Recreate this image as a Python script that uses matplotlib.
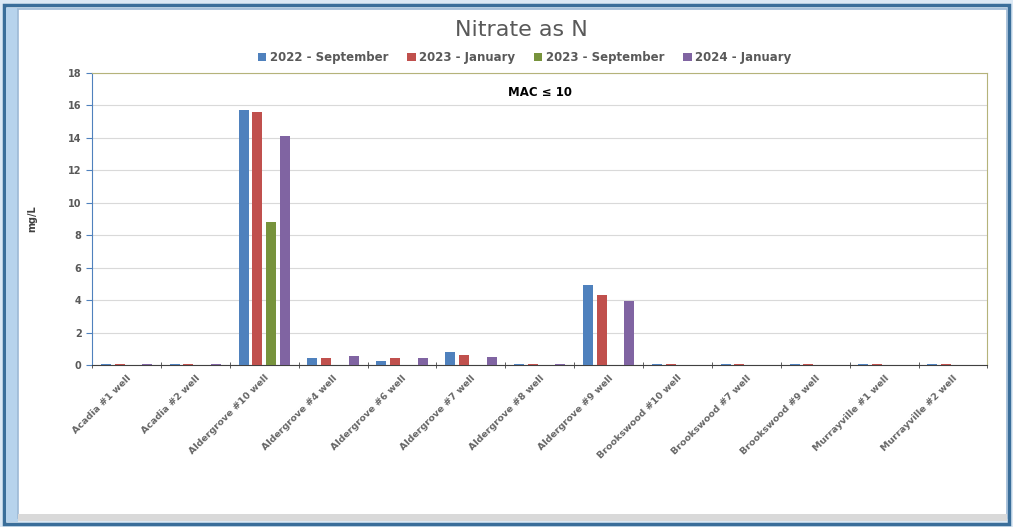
import matplotlib.pyplot as plt
import numpy as np
from matplotlib.patches import Rectangle

wells = ["Acadia #1 well", "Acadia #2 well", "Aldergrove #10 well", "Aldergrove #4 well",
         "Aldergrove #6 well", "Aldergrove #7 well", "Aldergrove #8 well", "Aldergrove #9 well",
         "Brookswood #10 well", "Brookswood #7 well", "Brookswood #9 well",
         "Murrayville #1 well", "Murrayville #2 well"]
series_names = ["2022 - September", "2023 - January", "2023 - September", "2024 - January"]
sep_2022 = [0.08, 0.08, 15.7, 0.42, 0.22, 0.82, 0.08, 4.95, 0.08, 0.08, 0.08, 0.08, 0.08]
jan_2023 = [0.08, 0.08, 15.6, 0.42, 0.42, 0.63, 0.08, 4.33, 0.08, 0.08, 0.08, 0.08, 0.08]
sep_2023 = [0, 0, 8.8, 0, 0, 0, 0, 0, 0, 0, 0, 0, 0]
jan_2024 = [0.08, 0.08, 14.1, 0.56, 0.42, 0.48, 0.08, 3.93, 0, 0, 0, 0, 0]
colors = ["#4F81BD", "#C0504D", "#77933C", "#8064A2"]

fig = plt.figure(figsize=(10.13, 5.27), dpi=100)

# window-like frame round the chart
fig.patches.append(Rectangle((0, 0), 1, 1, transform=fig.transFigure,
                             facecolor="#DCE9F5", edgecolor="none", zorder=-5))
fig.patches.append(Rectangle((0.004, 0.006), 0.992, 0.985, transform=fig.transFigure,
                             facecolor="none", edgecolor="#3A6E9A", lw=2.5, zorder=-4))
fig.patches.append(Rectangle((0.006, 0.01), 0.012, 0.975, transform=fig.transFigure,
                             facecolor="#B7D3EC", edgecolor="none", zorder=-4))
fig.patches.append(Rectangle((0.018, 0.018), 0.976, 0.965, transform=fig.transFigure,
                             facecolor="white", edgecolor="#9DB9D5", lw=1.2, zorder=-3))
fig.patches.append(Rectangle((0.018, 0.012), 0.976, 0.012, transform=fig.transFigure,
                             facecolor="#D9D9D9", edgecolor="none", zorder=-2))

ax = fig.add_axes([0.0908, 0.3074, 0.884, 0.5541])

x = np.arange(len(wells))
slot = 0.2
bw = 0.145
for i, (vals, c) in enumerate(zip([sep_2022, jan_2023, sep_2023, jan_2024], colors)):
    ax.bar(x + (i - 1.5) * slot, vals, width=bw, color=c, label=series_names[i], zorder=3)

ax.set_xlim(-0.5, len(wells) - 0.5)
ax.set_ylim(0, 18)
ax.set_yticks(np.arange(0, 19, 2))
ax.yaxis.grid(True, color="#D9D9D9", lw=0.8, zorder=0)
ax.set_axisbelow(True)

ax.set_xticks(x)
ax.set_xticklabels(wells, rotation=45, ha="right", rotation_mode="anchor",
                   fontsize=6.8, fontweight="bold", color="#666666")
ax.tick_params(axis="x", length=0, pad=6)
ax.set_xticks(np.arange(-0.5, len(wells), 1), minor=True)
ax.tick_params(axis="x", which="minor", length=5, color="#404040", direction="inout")
ax.tick_params(axis="y", length=4, color="#4F81BD", labelsize=7, labelcolor="#595959")
for lab in ax.get_yticklabels():
    lab.set_fontweight("bold")

ax.spines["left"].set_color("#4F81BD")
ax.spines["bottom"].set_color("#404040")
ax.spines["top"].set_color("#B5B37A")
ax.spines["right"].set_color("#B5B37A")

ax.set_ylabel("mg/L", fontsize=7, fontweight="bold", color="#404040", labelpad=22)
ax.text(0.5, 0.955, "MAC \u2264 10", transform=ax.transAxes, ha="center", va="top",
        fontsize=8.5, fontweight="bold", color="black")

fig.text(0.515, 0.943, "Nitrate as N", ha="center", va="center", fontsize=16,
         color="#595959", family=["Liberation Sans Narrow", "DejaVu Sans"])

leg = fig.legend(loc="center", bbox_to_anchor=(0.518, 0.89), ncol=4, frameon=False,
                 fontsize=8.5, handlelength=0.7, handleheight=0.7, handletextpad=0.3,
                 columnspacing=1.6)
for t in leg.get_texts():
    t.set_fontweight("bold")
    t.set_color("#595959")

fig.savefig("out.png", dpi=100)
